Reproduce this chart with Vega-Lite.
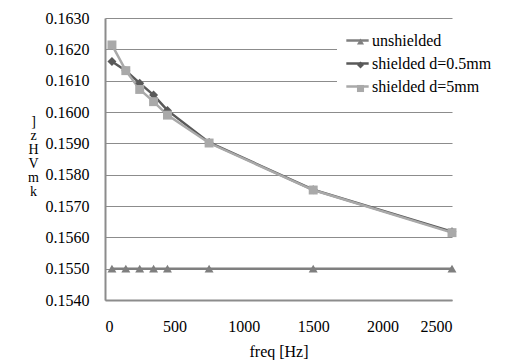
{
  "$schema": "https://vega.github.io/schema/vega-lite/v6.json",
  "width": 347,
  "height": 282,
  "autosize": {"type": "none"},
  "padding": {"left": 105, "top": 18, "right": 76, "bottom": 60},
  "background": "white",
  "config": {
    "view": {"stroke": null},
    "font": "Liberation Serif",
    "axis": {"labelFont": "Liberation Serif", "labelFontSize": 16, "labelColor": "black", "titleFont": "Liberation Serif", "titleFontSize": 16, "titleFontWeight": "normal", "titleColor": "black", "domainColor": "#8c8c8c", "domainWidth": 2, "ticks": false, "gridColor": "#8c8c8c", "gridWidth": 1.2},
    "legend": {"labelFont": "Liberation Serif", "labelFontSize": 16, "labelColor": "black"}
  },
  "data": {"values": [
    {"series": "unshielded", "freq": 50, "k": 0.1550},
    {"series": "unshielded", "freq": 150, "k": 0.1550},
    {"series": "unshielded", "freq": 250, "k": 0.1550},
    {"series": "unshielded", "freq": 350, "k": 0.1550},
    {"series": "unshielded", "freq": 450, "k": 0.1550},
    {"series": "unshielded", "freq": 750, "k": 0.1550},
    {"series": "unshielded", "freq": 1500, "k": 0.1550},
    {"series": "unshielded", "freq": 2500, "k": 0.1550},
    {"series": "shielded d=0.5mm", "freq": 50, "k": 0.16161},
    {"series": "shielded d=0.5mm", "freq": 150, "k": 0.16132},
    {"series": "shielded d=0.5mm", "freq": 250, "k": 0.16092},
    {"series": "shielded d=0.5mm", "freq": 350, "k": 0.16054},
    {"series": "shielded d=0.5mm", "freq": 450, "k": 0.16005},
    {"series": "shielded d=0.5mm", "freq": 750, "k": 0.15903},
    {"series": "shielded d=0.5mm", "freq": 1500, "k": 0.15752},
    {"series": "shielded d=0.5mm", "freq": 2500, "k": 0.15618},
    {"series": "shielded d=5mm", "freq": 50, "k": 0.16214},
    {"series": "shielded d=5mm", "freq": 150, "k": 0.16132},
    {"series": "shielded d=5mm", "freq": 250, "k": 0.16072},
    {"series": "shielded d=5mm", "freq": 350, "k": 0.16033},
    {"series": "shielded d=5mm", "freq": 450, "k": 0.15990},
    {"series": "shielded d=5mm", "freq": 750, "k": 0.15901},
    {"series": "shielded d=5mm", "freq": 1500, "k": 0.15751},
    {"series": "shielded d=5mm", "freq": 2500, "k": 0.15615}
  ]},
  "encoding": {
    "x": {"field": "freq", "type": "quantitative", "scale": {"domain": [0, 2500], "nice": false},
      "axis": {"values": [0, 500, 1000, 1500, 2000, 2500], "format": "d", "grid": false, "labelPadding": 18, "title": "freq [Hz]", "titlePadding": 9}},
    "y": {"field": "k", "type": "quantitative", "scale": {"domain": [0.154, 0.163], "nice": false, "zero": false},
      "axis": {"values": [0.154, 0.155, 0.156, 0.157, 0.158, 0.159, 0.160, 0.161, 0.162, 0.163], "format": ".4f", "labelPadding": 16, "grid": true,
        "title": ["]", "z", "H", "V", "m", "k"], "titleAngle": 0, "titleAlign": "center", "titleBaseline": "top", "titleX": -72, "titleY": 96, "titleFontSize": 14, "titleLineHeight": 14}}
  },
  "layer": [
    {
      "mark": {"type": "line", "strokeWidth": 2.5},
      "encoding": {
        "color": {"field": "series", "type": "nominal",
          "scale": {"domain": ["unshielded", "shielded d=0.5mm", "shielded d=5mm"], "range": ["#7f7f7f", "#595959", "#a9a9a9"]},
          "legend": {"title": null, "orient": "none", "legendX": 232, "legendY": 2, "symbolType": "stroke", "symbolSize": 500, "symbolStrokeWidth": 2.5, "rowPadding": 2, "labelOffset": 2, "padding": 8, "fillColor": "white"}
        }
      }
    },
    {
      "mark": {"type": "point", "filled": true, "opacity": 1, "size": 80},
      "encoding": {
        "color": {"field": "series", "type": "nominal",
          "scale": {"domain": ["unshielded", "shielded d=0.5mm", "shielded d=5mm"], "range": ["#7f7f7f", "#595959", "#a9a9a9"]},
          "legend": {"title": null, "orient": "none", "legendX": 239.5, "legendY": 7.5, "symbolSize": 50, "symbolOpacity": 1, "rowPadding": 7.5, "labelExpr": "''", "labelOffset": 0, "padding": 8}
        },
        "shape": {"field": "series", "type": "nominal",
          "scale": {"domain": ["unshielded", "shielded d=0.5mm", "shielded d=5mm"], "range": ["triangle-up", "diamond", "square"]},
          "legend": {"title": null, "orient": "none", "legendX": 239.5, "legendY": 7.5, "symbolSize": 50, "symbolOpacity": 1, "rowPadding": 7.5, "labelExpr": "''", "labelOffset": 0, "padding": 8}
        }
      }
    }
  ],
  "resolve": {"scale": {"color": "independent", "shape": "independent"}}
}
